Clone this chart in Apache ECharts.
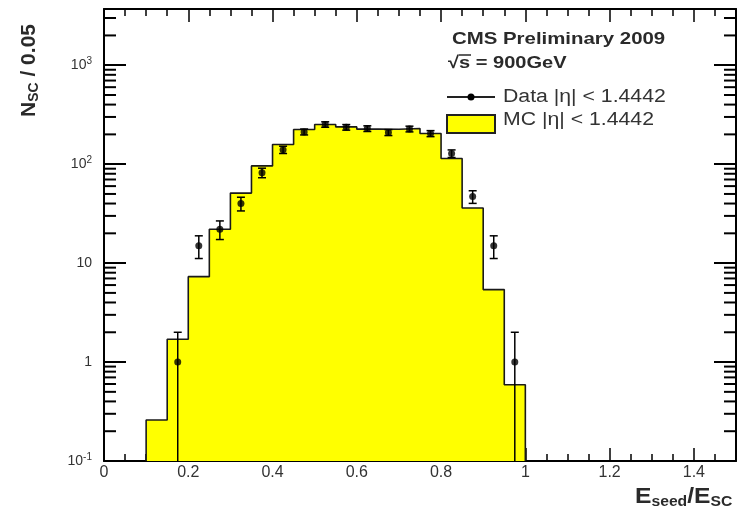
<!DOCTYPE html>
<html>
<head>
<meta charset="utf-8">
<script src="https://cdn.jsdelivr.net/npm/echarts@6/dist/echarts.min.js"></script>
<style>
  html, body { margin: 0; padding: 0; background: #fff; overflow: hidden; }
  #chart { width: 738px; height: 513px; }
</style>
</head>
<body>
<div id="chart"></div>
<script>
// MC histogram: lower bin edges (width 0.05) and contents
const binLow = [0.10, 0.15, 0.20, 0.25, 0.30, 0.35, 0.40, 0.45, 0.50,
                0.55, 0.60, 0.65, 0.70, 0.75, 0.80, 0.85, 0.90, 0.95];
const binWidth = 0.05;
const mcValues = [0.26, 1.7, 7.3, 22, 51, 96, 158, 224, 252,
                  238, 226, 225, 229, 204, 114, 36, 5.4, 0.59];

// data points (bin centres) and counts, errors are sqrt(N)
const dataX = [0.175, 0.225, 0.275, 0.325, 0.375, 0.425, 0.475, 0.525, 0.575,
               0.625, 0.675, 0.725, 0.775, 0.825, 0.875, 0.925, 0.975];
const dataValues = [1, 15, 22, 40, 82, 140, 212, 252, 236,
                    229, 209, 227, 204, 128, 47, 15, 1];

const xMin = 0, xMax = 1.5;
const yMin = 0.1, yMax = 3700;
const yMinorTicks = [0.2, 0.3, 0.4, 0.5, 0.6, 0.7, 0.8, 0.9,
                     2, 3, 4, 5, 6, 7, 8, 9,
                     20, 30, 40, 50, 60, 70, 80, 90,
                     200, 300, 400, 500, 600, 700, 800, 900,
                     2000, 3000];

const FONT = '"Liberation Sans", Arial, Helvetica, sans-serif';
const TXT = '#2a2a2a';

// step outline of the MC histogram
const mcStep = [[binLow[0], yMin]]
  .concat(binLow.map((x, i) => [x, mcValues[i]]))
  .concat([[binLow[binLow.length - 1] + binWidth, yMin]]);

const errData = dataX.map((x, i) => {
  const v = dataValues[i];
  const e = Math.sqrt(v);
  return [x, v, v - e, v + e];
});

function yLabel(v) {
  const p = Math.round(Math.log10(v));
  if (Math.abs(v - Math.pow(10, p)) > 1e-6 * v) return '';
  if (p === 0) return '{b|1}';
  if (p === 1) return '{b|10}';
  return '{b|10}{s|' + p + '}';
}

const chart = echarts.init(document.getElementById('chart'));

const axisLineStyle = { color: '#000', width: 2 };

const option = {
  animation: false,
  backgroundColor: '#fff',
  grid: { left: 104, right: 2, top: 9, bottom: 52, containLabel: false },
  xAxis: [
    {
      type: 'value', min: xMin, max: xMax, interval: 0.2, position: 'bottom',
      axisLine: { onZero: false, lineStyle: axisLineStyle },
      axisTick: { inside: true, length: 13, lineStyle: { color: '#000', width: 1.5 } },
      minorTick: { show: true, splitNumber: 4, length: 7, lineStyle: { color: '#000', width: 1.5 } },
      splitLine: { show: false },
      axisLabel: {
        margin: 4, color: '#333', fontSize: 16, fontFamily: FONT, showMaxLabel: false,
        formatter: v => (Math.round(v * 10) / 10).toString()
      }
    },
    {
      type: 'value', min: xMin, max: xMax, interval: 0.2, position: 'top',
      axisLine: { onZero: false, lineStyle: axisLineStyle },
      axisTick: { inside: true, length: 13, lineStyle: { color: '#000', width: 1.5 } },
      minorTick: { show: true, splitNumber: 4, length: 7, lineStyle: { color: '#000', width: 1.5 } },
      splitLine: { show: false },
      axisLabel: { show: false }
    }
  ],
  yAxis: [
    {
      type: 'log', logBase: 10, min: yMin, max: yMax, position: 'left',
      axisLine: { onZero: false, lineStyle: axisLineStyle },
      axisTick: { inside: true, length: 22, lineStyle: { color: '#000', width: 2 } },
      splitLine: { show: false },
      axisLabel: {
        margin: 12, showMaxLabel: false,
        formatter: yLabel,
        rich: {
          b: { fontSize: 14, color: '#333', fontFamily: FONT },
          s: { fontSize: 10, color: '#333', fontFamily: FONT, verticalAlign: 'top', padding: [0, 0, 8, 0] }
        }
      }
    },
    {
      type: 'log', logBase: 10, min: yMin, max: yMax, position: 'right',
      axisLine: { onZero: false, lineStyle: axisLineStyle },
      axisTick: { inside: true, length: 22, lineStyle: { color: '#000', width: 2 } },
      splitLine: { show: false },
      axisLabel: { show: false }
    }
  ],
  series: [
    {
      name: 'MC',
      type: 'line',
      step: 'end',
      data: mcStep,
      symbol: 'none',
      lineStyle: { color: '#1a1a1a', width: 1.6 },
      areaStyle: { color: '#ffff00', opacity: 1, origin: 'start' },
      z: 2
    },
    {
      // minor ticks of the log axes (left and right)
      name: 'minorTicks',
      type: 'custom',
      data: yMinorTicks.map(v => [xMin, v]),
      encode: { x: 0, y: 1 },
      silent: true,
      z: 5,
      renderItem: function (params, api) {
        const y = api.coord([xMin, api.value(1)])[1];
        const cs = params.coordSys;
        const st = { stroke: '#000', lineWidth: 2 };
        return {
          type: 'group',
          children: [
            { type: 'line', shape: { x1: cs.x, y1: y, x2: cs.x + 12, y2: y }, style: st },
            { type: 'line', shape: { x1: cs.x + cs.width - 12, y1: y, x2: cs.x + cs.width, y2: y }, style: st }
          ]
        };
      }
    },
    {
      name: 'DataErr',
      type: 'custom',
      data: errData,
      encode: { x: 0, y: 1 },
      z: 4,
      renderItem: function (params, api) {
        const x = api.value(0);
        const lo = api.value(2);
        const hi = api.value(3);
        const top = api.coord([x, hi]);
        const bot = api.coord([x, Math.max(lo, yMin)]);
        const st = { stroke: '#000', lineWidth: 1.5 };
        const kids = [
          { type: 'line', shape: { x1: top[0], y1: top[1], x2: bot[0], y2: bot[1] }, style: st },
          { type: 'line', shape: { x1: top[0] - 4, y1: top[1], x2: top[0] + 4, y2: top[1] }, style: st }
        ];
        if (lo > yMin) {
          kids.push({ type: 'line', shape: { x1: bot[0] - 4, y1: bot[1], x2: bot[0] + 4, y2: bot[1] }, style: st });
        }
        return { type: 'group', children: kids };
      }
    },
    {
      name: 'Data',
      type: 'scatter',
      data: dataX.map((x, i) => [x, dataValues[i]]),
      symbol: 'circle',
      symbolSize: 7,
      itemStyle: { color: '#000' },
      z: 6
    }
  ],
  graphic: [
    {
      type: 'text', x: 452, y: 39, scaleX: 1.2,
      style: { text: 'CMS Preliminary 2009', fontFamily: FONT, fontSize: 17, fontWeight: 'bold', fill: TXT, verticalAlign: 'middle' }
    },
    {
      type: 'text', x: 448, y: 63, scaleX: 1.18,
      style: {
        text: '√s = 900GeV', fontFamily: FONT, fontSize: 17, fontWeight: 'bold', fill: TXT, verticalAlign: 'middle'
      }
    },
    {
      // overline of the square root
      type: 'line', shape: { x1: 459, y1: 55, x2: 471, y2: 55 },
      style: { stroke: TXT, lineWidth: 1.5 }
    },
    {
      type: 'line', shape: { x1: 447, y1: 97, x2: 495, y2: 97 },
      style: { stroke: '#222', lineWidth: 2 }
    },
    {
      type: 'circle', shape: { cx: 471, cy: 97, r: 3.5 }, style: { fill: '#000' }
    },
    {
      type: 'text', x: 503, y: 97, scaleX: 1.18,
      style: { text: 'Data |η| < 1.4442', fontFamily: FONT, fontSize: 18, fill: '#333', verticalAlign: 'middle' }
    },
    {
      type: 'rect', shape: { x: 447, y: 115, width: 48, height: 18 },
      style: { fill: '#ffff00', stroke: '#222', lineWidth: 2 }
    },
    {
      type: 'text', x: 503, y: 120, scaleX: 1.18,
      style: { text: 'MC |η| < 1.4442', fontFamily: FONT, fontSize: 18, fill: '#333', verticalAlign: 'middle' }
    },
    {
      type: 'text', x: 17, y: 117, rotation: Math.PI / 2,
      style: {
        text: '{b|N}{s|SC}{b| / 0.05}',
        rich: {
          b: { fontFamily: FONT, fontSize: 21, fontWeight: 'bold', fill: TXT },
          s: { fontFamily: FONT, fontSize: 14, fontWeight: 'bold', fill: TXT, padding: [10, 0, 0, 0] }
        }
      }
    },
    {
      type: 'text', x: 635, y: 484, scaleX: 1.12,
      style: {
        text: '{b|E}{s|seed}{b|/E}{s|SC}',
        rich: {
          b: { fontFamily: FONT, fontSize: 22, fontWeight: 'bold', fill: TXT },
          s: { fontFamily: FONT, fontSize: 14, fontWeight: 'bold', fill: TXT, padding: [11, 0, 0, 0] }
        }
      }
    }
  ]
};

chart.setOption(option);
</script>
</body>
</html>
